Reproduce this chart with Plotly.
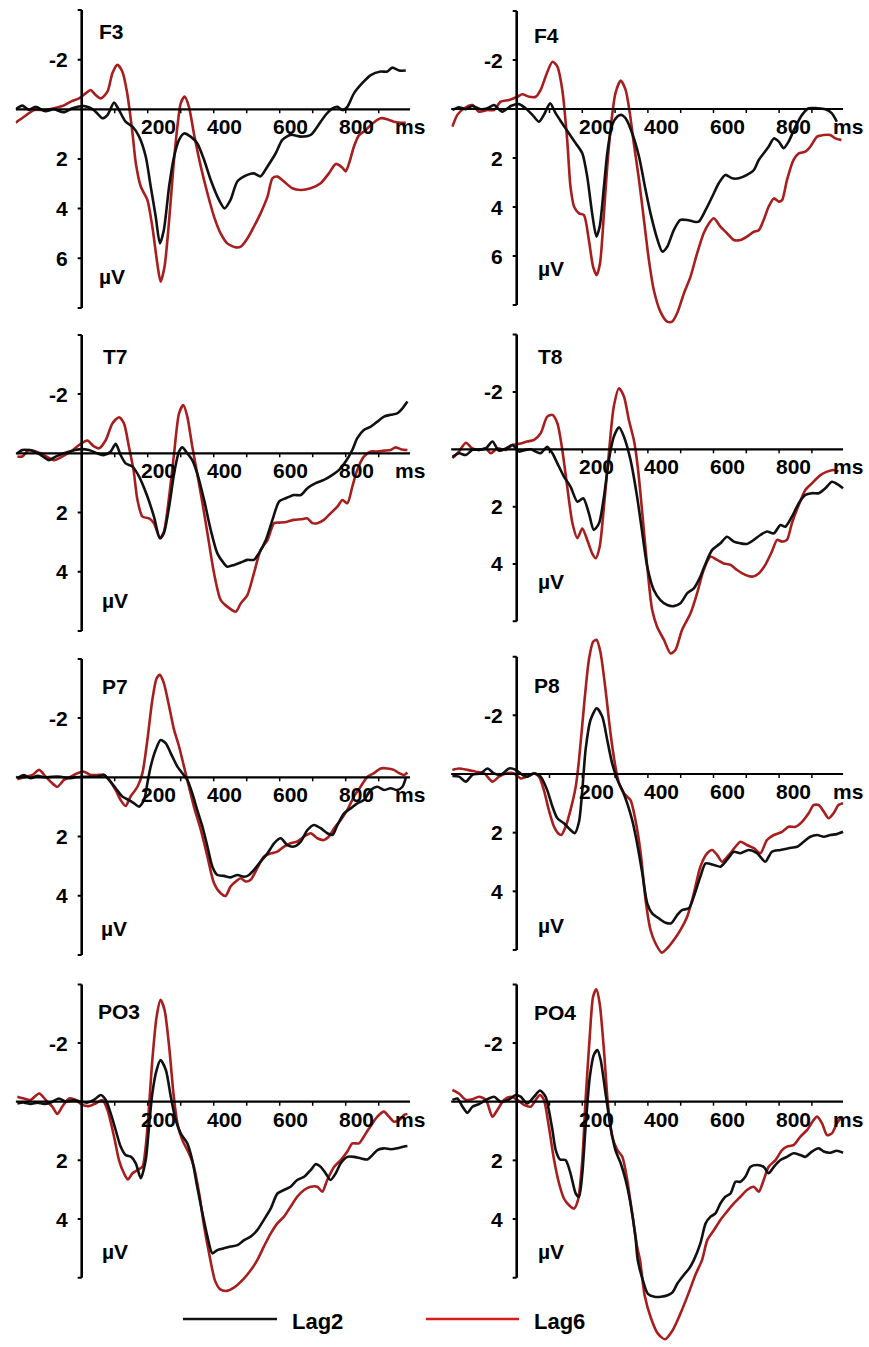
import plotly.graph_objects as go

# ---------------------------------------------------------------------------
# Grand-average ERP waveforms, (time in ms, amplitude in µV) samples
# ---------------------------------------------------------------------------
F3_LAG2 = [(-200, 0.0), (-180, -0.15), (-160, 0.02), (-140, -0.1), (-110, 0.08), (-85, 0.0), (-55, 0.12),
           (-28, -0.04), (7, -0.13), (37, 0.03), (63, 0.36), (78, 0.23), (98, -0.27), (113, 0.03), (133, 0.5),
           (154, 0.7), (174, 1.1), (194, 1.9), (209, 3.1), (224, 4.3), (237, 5.4), (249, 4.86), (265, 3.1),
           (280, 1.9), (295, 1.23), (310, 0.97), (330, 1.1), (350, 1.37), (371, 2.04), (391, 2.85), (416, 3.65),
           (433, 3.99), (451, 3.65), (472, 2.9), (502, 2.64), (522, 2.58), (542, 2.7), (563, 2.3), (588, 1.77),
           (608, 1.23), (633, 1.03), (664, 1.1), (694, 1.03), (714, 0.7), (739, 0.23), (760, -0.04), (775, -0.1),
           (790, 0.03), (805, -0.1), (825, -0.64), (850, -1.05), (876, -1.38), (906, -1.52), (926, -1.52),
           (941, -1.68), (962, -1.56), (982, -1.56)]
F3_LAG6 = [(-200, 0.54), (-175, 0.3), (-144, 0.03), (-114, 0.03), (-84, -0.04), (-59, -0.13), (-33, -0.31),
           (-8, -0.44), (12, -0.64), (27, -0.78), (42, -0.58), (58, -0.44), (78, -0.71), (93, -1.45), (108, -1.79),
           (123, -1.52), (138, -0.64), (154, 0.97), (164, 2.17), (179, 3.11), (199, 3.65), (214, 4.72), (229, 6.2),
           (239, 6.94), (251, 6.34), (265, 4.46), (278, 2.31), (290, 0.7), (300, -0.24), (312, -0.51), (325, -0.1),
           (340, 0.97), (361, 2.31), (381, 3.38), (401, 4.32), (421, 5.0), (441, 5.4), (467, 5.56), (482, 5.53),
           (502, 5.2), (522, 4.72), (542, 4.19), (563, 3.52), (578, 2.78), (593, 2.71), (613, 2.91), (638, 3.18),
           (664, 3.25), (694, 3.18), (724, 2.98), (749, 2.58), (770, 2.2), (790, 2.35), (800, 2.5), (812, 2.1),
           (825, 1.5), (840, 1.05), (860, 0.85), (876, 0.63), (906, 0.36), (926, 0.4), (946, 0.5), (967, 0.54),
           (982, 0.54)]

F4_LAG2 = [(-196, 0.04), (-176, -0.07), (-155, 0.01), (-135, -0.12), (-110, 0.01), (-89, -0.03), (-69, -0.16),
           (-44, 0.11), (-18, -0.12), (7, -0.2), (27, -0.03), (48, 0.24), (68, 0.52), (83, 0.24), (102, -0.23),
           (119, 0.18), (139, 0.59), (159, 0.99), (180, 1.4), (200, 1.81), (215, 2.76), (230, 4.26), (243, 5.21),
           (253, 4.8), (266, 3.17), (276, 1.81), (291, 0.65), (307, 0.31), (319, 0.24), (332, 0.38), (352, 0.99),
           (373, 1.95), (393, 3.31), (408, 4.26), (428, 5.28), (444, 5.82), (459, 5.62), (479, 4.94), (499, 4.53),
           (520, 4.53), (540, 4.6), (555, 4.6), (576, 4.12), (596, 3.58), (616, 3.03), (636, 2.69), (657, 2.83),
           (677, 2.83), (702, 2.69), (723, 2.49), (738, 2.08), (753, 1.81), (768, 1.54), (784, 1.2), (799, 1.33),
           (814, 1.6), (829, 1.33), (850, 0.72), (870, 0.24), (890, -0.03), (916, -0.03), (941, 0.01), (961, 0.18),
           (976, 0.52)]
F4_LAG6 = [(-196, 0.72), (-181, 0.24), (-160, -0.03), (-135, -0.16), (-115, 0.11), (-89, 0.04), (-69, 0.04),
           (-49, -0.3), (-23, -0.37), (2, -0.5), (17, -0.6), (38, -0.5), (58, -0.5), (73, -0.78), (88, -1.32),
           (109, -1.93), (124, -1.73), (139, -0.78), (154, 1.27), (164, 3.17), (175, 3.99), (190, 4.26), (205, 4.33),
           (220, 5.35), (233, 6.44), (244, 6.78), (254, 6.3), (266, 4.26), (276, 2.35), (288, 0.59), (301, -0.64),
           (317, -1.16), (332, -0.78), (345, 0.18), (357, 1.4), (373, 2.9), (388, 4.53), (403, 6.16), (418, 7.39),
           (438, 8.27), (459, 8.68), (474, 8.68), (489, 8.34), (510, 7.52), (530, 6.84), (550, 5.89), (570, 5.07),
           (586, 4.67), (601, 4.46), (621, 4.8), (641, 5.07), (662, 5.35), (682, 5.35), (702, 5.21), (723, 5.01),
           (738, 4.95), (753, 4.53), (768, 3.99), (784, 3.65), (799, 3.78), (809, 3.72), (824, 2.9), (844, 2.08),
           (860, 1.81), (880, 1.74), (895, 1.54), (916, 1.13), (936, 1.06), (956, 1.06), (971, 1.2), (990, 1.27)]

T7_LAG2 = [(-195, 0.0), (-180, -0.11), (-160, -0.11), (-144, -0.06), (-124, 0.06), (-99, 0.23), (-79, 0.11),
           (-54, 0.0), (-28, -0.09), (-3, -0.14), (22, -0.11), (47, 0.0), (68, 0.06), (88, -0.06), (103, -0.32),
           (118, 0.06), (133, 0.34), (154, 0.45), (174, 0.79), (199, 1.46), (219, 2.14), (237, 2.87), (249, 2.7),
           (265, 1.8), (280, 0.68), (295, -0.06), (305, -0.2), (320, 0.0), (335, 0.23), (350, 0.68), (371, 1.58),
           (391, 2.59), (411, 3.38), (431, 3.72), (441, 3.83), (462, 3.77), (482, 3.69), (502, 3.6), (522, 3.6),
           (537, 3.38), (558, 2.93), (578, 2.25), (598, 1.63), (618, 1.52), (643, 1.41), (664, 1.41), (684, 1.18),
           (709, 1.01), (734, 0.9), (760, 0.73), (780, 0.56), (800, 0.28), (820, -0.11), (835, -0.51), (855, -0.79),
           (876, -0.9), (896, -1.07), (916, -1.24), (936, -1.3), (956, -1.35), (972, -1.52), (987, -1.75)]
T7_LAG6 = [(-195, 0.11), (-180, 0.11), (-160, -0.11), (-139, -0.06), (-114, 0.06), (-84, 0.23), (-59, 0.11),
           (-33, -0.06), (-8, -0.28), (17, -0.43), (37, -0.23), (53, -0.17), (73, -0.45), (93, -1.01), (113, -1.22),
           (128, -1.01), (143, -0.23), (157, 0.56), (169, 1.58), (184, 2.14), (204, 2.2), (219, 2.36), (237, 2.87),
           (249, 2.65), (265, 1.46), (280, 0.0), (295, -1.35), (308, -1.63), (320, -1.24), (335, -0.23), (350, 0.68),
           (366, 1.69), (381, 2.7), (401, 4.05), (421, 4.95), (441, 5.18), (467, 5.35), (482, 5.07), (502, 4.79),
           (522, 4.05), (542, 3.27), (563, 2.93), (583, 2.36), (603, 2.34), (623, 2.31), (643, 2.25), (664, 2.23),
           (684, 2.2), (699, 2.36), (714, 2.36), (734, 2.25), (754, 2.03), (775, 1.8), (790, 1.58), (805, 1.69),
           (820, 1.13), (835, 0.56), (855, 0.11), (876, -0.06), (896, -0.06), (916, -0.09), (936, -0.11),
           (951, -0.2), (967, -0.14), (987, -0.11)]

T8_LAG2 = [(-196, 0.26), (-176, 0.14), (-155, 0.2), (-135, 0.02), (-115, 0.02), (-94, -0.03), (-74, -0.27),
           (-54, 0.05), (-33, -0.03), (-13, -0.15), (7, 0.08), (27, 0.02), (43, 0.0), (58, 0.08), (73, 0.14),
           (93, -0.09), (109, 0.14), (124, 0.49), (144, 0.95), (164, 1.3), (185, 1.83), (203, 1.71), (220, 2.23),
           (235, 2.81), (251, 2.58), (266, 1.65), (281, 0.37), (296, -0.44), (312, -0.77), (327, -0.44), (347, 0.37),
           (367, 1.65), (383, 2.93), (398, 4.09), (418, 4.91), (438, 5.26), (459, 5.43), (479, 5.47), (499, 5.37),
           (520, 5.02), (540, 4.85), (560, 4.44), (576, 3.98), (596, 3.51), (621, 3.28), (641, 3.05), (662, 3.22),
           (682, 3.28), (702, 3.3), (723, 3.16), (743, 2.99), (763, 2.87), (784, 2.93), (804, 2.64), (819, 2.7),
           (839, 2.35), (860, 1.88), (880, 1.59), (900, 1.53), (921, 1.53), (941, 1.36), (961, 1.13), (981, 1.24),
           (995, 1.36)]
T8_LAG6 = [(-196, 0.31), (-176, 0.08), (-155, -0.23), (-135, -0.03), (-115, 0.02), (-94, -0.03), (-79, 0.14),
           (-59, -0.03), (-33, 0.02), (-13, -0.15), (7, -0.19), (32, -0.27), (53, -0.33), (73, -0.56), (93, -1.14),
           (109, -1.2), (124, -0.91), (139, 0.02), (154, 1.3), (170, 2.58), (185, 3.1), (200, 2.76), (215, 3.16),
           (230, 3.63), (241, 3.8), (253, 3.4), (266, 2.0), (281, 0.14), (296, -1.49), (312, -2.13), (327, -1.84),
           (342, -1.02), (357, -0.33), (369, 0.6), (383, 2.23), (398, 4.09), (413, 5.6), (428, 6.19), (449, 6.65),
           (469, 7.12), (484, 7.0), (504, 6.3), (530, 5.72), (550, 5.02), (570, 4.21), (591, 3.74), (611, 3.86),
           (631, 3.98), (652, 4.03), (672, 4.21), (697, 4.38), (718, 4.44), (738, 4.33), (758, 4.03), (778, 3.57),
           (794, 3.16), (809, 3.22), (824, 3.16), (839, 2.58), (860, 1.94), (880, 1.42), (900, 1.19), (926, 0.9),
           (946, 0.78), (966, 0.72), (981, 0.78)]

P7_LAG2 = [(-195, 0.03), (-175, -0.08), (-155, 0.03), (-134, -0.05), (-114, 0.0), (-89, -0.02), (-64, -0.02),
           (-38, 0.03), (-18, 0.0), (2, -0.02), (27, -0.02), (47, -0.02), (68, -0.08), (83, 0.09), (103, 0.37),
           (123, 0.65), (143, 0.77), (159, 0.88), (174, 0.99), (189, 0.77), (199, 0.2), (209, -0.36), (224, -0.92),
           (239, -1.26), (255, -1.15), (270, -0.81), (290, -0.36), (305, -0.14), (320, 0.09), (335, 0.54),
           (350, 1.1), (366, 1.67), (381, 2.34), (396, 3.02), (411, 3.3), (431, 3.33), (451, 3.38), (472, 3.3),
           (492, 3.36), (507, 3.3), (522, 3.13), (542, 2.85), (563, 2.57), (583, 2.23), (603, 2.06), (623, 2.29),
           (643, 2.34), (664, 2.17), (684, 1.78), (704, 1.61), (724, 1.72), (744, 1.89), (760, 1.95), (775, 1.61),
           (795, 1.22), (815, 1.05), (835, 0.88), (855, 0.77), (876, 0.43), (896, 0.32), (916, 0.43), (936, 0.37),
           (956, 0.43), (972, 0.32), (982, 0.03)]
P7_LAG6 = [(-195, 0.07), (-175, 0.0), (-149, -0.08), (-129, -0.25), (-109, -0.02), (-94, 0.15), (-74, 0.32),
           (-54, 0.09), (-33, -0.02), (-13, -0.14), (7, -0.19), (27, -0.08), (47, -0.08), (68, -0.08), (83, 0.09),
           (103, 0.43), (118, 0.77), (133, 0.97), (148, 0.65), (169, 0.32), (184, -0.14), (199, -1.26),
           (214, -2.61), (227, -3.34), (237, -3.46), (249, -3.18), (265, -2.39), (280, -1.6), (295, -1.04),
           (310, -0.36), (325, 0.32), (340, 0.99), (361, 1.78), (381, 2.68), (401, 3.58), (421, 3.92), (436, 4.01),
           (451, 3.69), (467, 3.52), (482, 3.41), (497, 3.52), (512, 3.46), (532, 3.07), (552, 2.68), (573, 2.57),
           (593, 2.51), (613, 2.34), (633, 2.23), (653, 2.17), (674, 2.0), (694, 1.89), (714, 2.06), (734, 2.12),
           (749, 2.0), (765, 1.72), (785, 1.44), (805, 1.1), (825, 0.65), (845, 0.32), (866, -0.02), (886, -0.14),
           (906, -0.3), (926, -0.3), (946, -0.25), (962, -0.14), (977, -0.08), (987, -0.16)]

P8_LAG2 = [(-196, 0.07), (-176, 0.09), (-155, 0.26), (-135, 0.03), (-110, -0.02), (-89, -0.19), (-69, -0.02),
           (-49, 0.03), (-23, -0.19), (-3, -0.14), (17, 0.03), (32, 0.09), (53, -0.02), (73, 0.09), (93, 0.55),
           (109, 1.11), (124, 1.51), (144, 1.68), (164, 1.91), (177, 2.02), (190, 1.63), (200, 0.55), (210, -0.82),
           (225, -1.84), (244, -2.24), (261, -1.95), (276, -1.16), (291, -0.36), (307, 0.2), (322, 0.55),
           (337, 1.0), (352, 1.57), (367, 2.36), (383, 3.39), (398, 4.41), (413, 4.75), (433, 4.92), (454, 5.07),
           (471, 5.09), (489, 4.81), (504, 4.64), (525, 4.58), (540, 4.18), (560, 3.5), (576, 3.05), (601, 3.1),
           (621, 3.16), (641, 2.93), (662, 2.65), (682, 2.7), (707, 2.59), (733, 2.7), (758, 2.99), (778, 2.65),
           (804, 2.59), (829, 2.53), (855, 2.48), (875, 2.31), (895, 2.14), (916, 2.08), (936, 2.14), (956, 2.08),
           (976, 2.05), (995, 1.97)]
P8_LAG6 = [(-196, -0.14), (-176, -0.19), (-150, -0.14), (-125, -0.08), (-99, -0.02), (-74, 0.26), (-54, 0.09),
           (-33, -0.02), (-8, -0.02), (12, 0.15), (32, 0.09), (53, -0.02), (68, 0.09), (83, 0.55), (98, 1.23),
           (114, 1.8), (126, 2.02), (136, 2.08), (149, 1.8), (164, 1.23), (180, 0.43), (190, -0.48), (205, -2.3),
           (220, -3.89), (233, -4.51), (244, -4.57), (256, -4.11), (271, -2.86), (286, -1.39), (301, -0.25),
           (312, 0.32), (327, 0.66), (347, 0.89), (362, 1.57), (378, 2.7), (393, 4.3), (408, 5.32), (423, 5.77),
           (442, 6.09), (459, 5.94), (479, 5.66), (499, 5.32), (520, 4.86), (540, 4.07), (560, 3.16), (581, 2.7),
           (596, 2.59), (611, 2.76), (626, 2.99), (647, 2.76), (667, 2.48), (682, 2.31), (702, 2.42), (723, 2.53),
           (743, 2.7), (763, 2.25), (784, 2.08), (809, 1.97), (829, 1.8), (850, 1.8), (870, 1.63), (890, 1.34),
           (905, 1.06), (921, 1.06), (936, 1.28), (951, 1.51), (966, 1.34), (981, 1.06), (995, 1.0)]

PO3_LAG2 = [(-195, 0.06), (-175, 0.03), (-155, 0.08), (-134, 0.03), (-114, 0.08), (-94, 0.03), (-69, -0.11),
            (-48, 0.0), (-23, -0.06), (-3, 0.0), (17, 0.03), (37, -0.06), (58, -0.23), (73, -0.06), (88, 0.4),
            (103, 0.97), (118, 1.53), (133, 1.82), (150, 1.88), (164, 2.1), (179, 2.61), (194, 1.99), (204, 0.85),
            (214, -0.28), (227, -1.08), (239, -1.42), (255, -1.08), (270, -0.17), (285, 0.63), (300, 1.08),
            (320, 1.42), (335, 1.99), (350, 2.9), (366, 3.81), (381, 4.6), (396, 5.17), (411, 5.06), (431, 5.0),
            (451, 4.94), (472, 4.89), (492, 4.72), (512, 4.6), (532, 4.38), (552, 4.03), (573, 3.64), (593, 3.13),
            (613, 3.01), (633, 2.9), (653, 2.67), (674, 2.56), (694, 2.33), (709, 2.13), (724, 2.22), (739, 2.44),
            (754, 2.67), (770, 2.44), (785, 2.1), (805, 1.88), (825, 1.88), (845, 1.93), (866, 1.97), (881, 1.82),
            (896, 1.65), (916, 1.59), (936, 1.62), (956, 1.59), (977, 1.53), (987, 1.51)]
PO3_LAG6 = [(-195, -0.17), (-175, -0.11), (-155, -0.06), (-129, -0.28), (-109, -0.06), (-89, 0.17), (-74, 0.42),
            (-59, 0.17), (-38, -0.11), (-18, -0.06), (2, 0.11), (22, 0.15), (42, 0.06), (63, -0.06), (78, 0.28),
            (98, 1.19), (113, 1.99), (128, 2.44), (140, 2.65), (154, 2.44), (169, 2.33), (184, 2.22), (194, 1.53),
            (204, 0.17), (214, -1.42), (227, -2.9), (239, -3.47), (251, -3.13), (265, -1.88), (278, -0.28),
            (290, 0.74), (305, 1.31), (325, 1.76), (340, 2.22), (356, 3.13), (371, 4.26), (386, 5.17), (404, 6.1),
            (420, 6.4), (440, 6.45), (460, 6.35), (490, 6.05), (512, 5.75), (532, 5.4), (552, 4.94), (573, 4.49),
            (593, 4.15), (613, 3.92), (633, 3.58), (653, 3.24), (674, 3.01), (694, 2.9), (714, 2.9), (729, 3.07),
            (744, 2.67), (765, 2.22), (785, 1.99), (805, 1.7), (820, 1.42), (840, 1.42), (861, 1.08), (881, 0.74),
            (896, 0.51), (916, 0.34), (931, 0.51), (946, 0.68), (962, 0.63), (977, 0.45), (987, 0.42)]

PO4_LAG2 = [(-196, -0.06), (-181, -0.11), (-165, 0.17), (-150, 0.38), (-135, 0.17), (-115, 0.08), (-94, -0.06),
            (-69, -0.17), (-49, 0.0), (-23, -0.08), (-3, -0.23), (12, -0.17), (32, 0.06), (53, -0.17), (71, -0.38),
            (88, -0.17), (98, 0.28), (109, 0.97), (119, 1.65), (132, 1.97), (149, 1.99), (164, 2.44), (180, 3.13),
            (190, 3.24), (200, 2.44), (210, 0.85), (223, -0.85), (235, -1.59), (246, -1.76), (256, -1.42),
            (271, -0.28), (286, 0.85), (301, 1.65), (317, 2.1), (332, 2.67), (347, 3.47), (362, 4.6), (369, 5.4),
            (385, 6.1), (400, 6.55), (420, 6.65), (440, 6.65), (460, 6.6), (475, 6.5), (490, 6.2), (510, 5.9),
            (525, 5.7), (540, 5.4), (560, 4.83), (576, 4.15), (591, 3.92), (606, 3.81), (621, 3.47), (636, 3.24),
            (652, 3.13), (667, 2.73), (682, 2.73), (697, 2.56), (713, 2.22), (733, 2.16), (753, 2.22), (768, 2.44),
            (784, 2.22), (804, 1.99), (824, 1.88), (844, 1.76), (865, 1.82), (880, 1.88), (900, 1.7), (921, 1.59),
            (936, 1.7), (956, 1.74), (976, 1.67), (995, 1.74)]
PO4_LAG6 = [(-196, -0.4), (-176, -0.28), (-155, -0.06), (-135, -0.08), (-115, -0.17), (-94, -0.06), (-74, 0.51),
            (-59, 0.28), (-39, -0.06), (-18, -0.17), (2, -0.06), (22, 0.11), (43, 0.17), (58, -0.06), (71, -0.23),
            (83, -0.06), (98, 0.85), (114, 1.99), (129, 2.78), (144, 3.3), (159, 3.52), (175, 3.64), (187, 3.35),
            (200, 1.99), (210, -0.06), (223, -2.27), (233, -3.58), (243, -3.83), (253, -3.35), (266, -1.76),
            (278, 0.06), (291, 1.19), (307, 1.65), (322, 1.88), (337, 2.67), (352, 3.81), (367, 4.94), (376, 5.4),
            (390, 6.6), (410, 7.4), (430, 7.9), (452, 8.1), (475, 7.8), (500, 7.2), (525, 6.5), (545, 5.9),
            (565, 5.4), (581, 4.72), (601, 4.38), (621, 4.03), (641, 3.75), (662, 3.47), (682, 3.24), (702, 3.01),
            (723, 2.9), (738, 3.07), (753, 2.67), (768, 2.22), (789, 1.99), (809, 1.65), (824, 1.53), (844, 1.48),
            (865, 1.19), (885, 0.97), (905, 0.63), (916, 0.51), (931, 0.74), (946, 1.14), (961, 1.08), (976, 0.74),
            (992, 0.51)]

CONDITIONS = ["Lag2", "Lag6"]
X_TICK_LABELS = [200, 400, 600, 800]
X_MINOR_TICKS = [100, 200, 300, 400, 500, 600, 700, 800, 900]

# ---------------------------------------------------------------------------
# Page geometry and styling
# ---------------------------------------------------------------------------
W, H = 869, 1347
BLACK = "#111111"
RED = "#a81e1e"
LEGEND_RED = "#d81b1b"
FONT = dict(family="Liberation Sans, Arial, sans-serif", size=21, color="black", weight="bold")

# per column: pixel x of 0 ms, pixels per ms, x shift of tick labels, x shift of "ms" from 990 ms
COLS = [dict(x0=81.7, s=0.330, lab_dx=11, ms_dx=2),
        dict(x0=516.7, s=0.328, lab_dx=14, ms_dx=7)]

# per panel: pixel y of 0 µV, pixels per µV, drawn axis extent, labelled ticks, label placement
PANELS = [
    dict(ch="F3", col=0, y0=109.3, k=24.83, ext=(-4, 8), labels=[-2, 2, 4, 6], ch_y=-3.13, ch_dx=15,
         uv_y=6.74, uv_dx=15, lag2=F3_LAG2, lag6=F3_LAG6),
    dict(ch="F4", col=1, y0=109.0, k=24.5, ext=(-4, 8), labels=[-2, 2, 4, 6], ch_y=-3.02, ch_dx=15,
         uv_y=6.5, uv_dx=19, lag2=F4_LAG2, lag6=F4_LAG6),
    dict(ch="T7", col=0, y0=453.3, k=29.6, ext=(-4, 6), labels=[-2, 2, 4], ch_y=-3.26, ch_dx=19,
         uv_y=4.96, uv_dx=18, lag2=T7_LAG2, lag6=T7_LAG6),
    dict(ch="T8", col=1, y0=449.3, k=28.67, ext=(-4, 6), labels=[-2, 2, 4], ch_y=-3.25, ch_dx=19,
         uv_y=4.62, uv_dx=19, lag2=T8_LAG2, lag6=T8_LAG6),
    dict(ch="P7", col=0, y0=777.3, k=29.6, ext=(-4, 6), labels=[-2, 2, 4], ch_y=-3.06, ch_dx=18,
         uv_y=5.1, uv_dx=17, lag2=P7_LAG2, lag6=P7_LAG6),
    dict(ch="P8", col=1, y0=774.0, k=29.33, ext=(-4, 6), labels=[-2, 2, 4], ch_y=-3.03, ch_dx=15,
         uv_y=5.15, uv_dx=19, lag2=P8_LAG2, lag6=P8_LAG6),
    dict(ch="PO3", col=0, y0=1101.7, k=29.33, ext=(-4, 6), labels=[-2, 2, 4], ch_y=-3.07, ch_dx=14,
         uv_y=5.11, uv_dx=18, lag2=PO3_LAG2, lag6=PO3_LAG6),
    dict(ch="PO4", col=1, y0=1101.7, k=29.33, ext=(-4, 6), labels=[-2, 2, 4], ch_y=-3.03, ch_dx=15,
         uv_y=5.11, uv_dx=19, lag2=PO4_LAG2, lag6=PO4_LAG6),
]

# vertical room around each panel so that large deflections are not clipped
VIEW_UP_PX = 160
VIEW_DOWN_PX = 240

fig = go.Figure()
layout_axes = {}
shapes = []
annotations = []

for i, p in enumerate(PANELS, start=1):
    xa = "x" if i == 1 else f"x{i}"
    ya = "y" if i == 1 else f"y{i}"
    c = COLS[p["col"]]
    s, k = c["s"], p["k"]

    top_px = max(0.0, p["y0"] - VIEW_UP_PX)
    bot_px = min(H - 0.5, p["y0"] + VIEW_DOWN_PX)
    lo = (top_px - p["y0"]) / k
    hi = (bot_px - p["y0"]) / k

    layout_axes[f"xaxis{i}"] = dict(domain=[(c["x0"] - 200 * s) / W, (c["x0"] + 1000 * s) / W],
                                    range=[-200, 1000], visible=False, anchor=ya, fixedrange=True)
    layout_axes[f"yaxis{i}"] = dict(domain=[1 - bot_px / H, 1 - top_px / H],
                                    range=[hi, lo], visible=False, anchor=xa, fixedrange=True)

    for cond, color in (("lag6", RED), ("lag2", BLACK)):
        pts = p[cond]
        fig.add_trace(go.Scatter(
            x=[t for t, _ in pts], y=[v for _, v in pts], xaxis=xa, yaxis=ya, mode="lines",
            line=dict(color=color, width=2.6, shape="spline", smoothing=0.7),
            showlegend=False, hoverinfo="skip"))

    # vertical amplitude axis with end and value ticks
    shapes.append(dict(type="line", xref=xa, yref=ya, x0=0, x1=0, y0=p["ext"][0], y1=p["ext"][1],
                       line=dict(color="black", width=2.6)))
    for v in list(range(p["ext"][0], p["ext"][1] + 1, 2)):
        if v == 0:
            continue
        shapes.append(dict(type="line", xref=xa, yref=ya, x0=0, x1=-4 / s, y0=v, y1=v,
                           line=dict(color="black", width=2)))
    # horizontal time axis through 0 µV
    shapes.append(dict(type="line", xref=xa, yref=ya, x0=-200, x1=995, y0=0, y1=0,
                       line=dict(color="black", width=2.2)))
    for t in X_MINOR_TICKS:
        shapes.append(dict(type="line", xref=xa, yref=ya, x0=t, x1=t, y0=0, y1=4 / k,
                           line=dict(color="black", width=1.5)))

    for v in p["labels"]:
        annotations.append(dict(x=0, y=v, xref=xa, yref=ya, text=str(v), showarrow=False,
                                xanchor="right", yanchor="middle", xshift=-12, font=FONT))
    for t in X_TICK_LABELS:
        annotations.append(dict(x=t, y=0, xref=xa, yref=ya, text=str(t), showarrow=False,
                                xanchor="center", yanchor="middle", xshift=c["lab_dx"], yshift=-17.5,
                                font=FONT))
    annotations.append(dict(x=990, y=0, xref=xa, yref=ya, text="ms", showarrow=False,
                            xanchor="center", yanchor="middle", xshift=c["ms_dx"], yshift=-17.5, font=FONT))
    annotations.append(dict(x=0, y=p["ch_y"], xref=xa, yref=ya, text=p["ch"], showarrow=False,
                            xanchor="left", yanchor="middle", xshift=p["ch_dx"], font=FONT))
    annotations.append(dict(x=0, y=p["uv_y"], xref=xa, yref=ya, text="µV", showarrow=False,
                            xanchor="left", yanchor="middle", xshift=p["uv_dx"], font=FONT))

# legend drawn at the bottom of the page
LEGEND_Y = 1319
for (x0, x1, tx), name, color in zip([(183, 277, 290), (426, 519, 532)], CONDITIONS, [BLACK, LEGEND_RED]):
    shapes.append(dict(type="line", xref="paper", yref="paper", x0=x0 / W, x1=x1 / W,
                       y0=1 - LEGEND_Y / H, y1=1 - LEGEND_Y / H, line=dict(color=color, width=2.6)))
    annotations.append(dict(x=tx / W, y=1 - (LEGEND_Y + 2) / H, xref="paper", yref="paper", text=name,
                            showarrow=False, xanchor="left", yanchor="middle",
                            font=dict(FONT, size=22)))

fig.update_layout(
    width=W, height=H, margin=dict(l=0, r=0, t=0, b=0),
    paper_bgcolor="white", plot_bgcolor="rgba(0,0,0,0)",
    showlegend=False, shapes=shapes, annotations=annotations, **layout_axes)

fig.write_html("out.html", config={"displayModeBar": False})
